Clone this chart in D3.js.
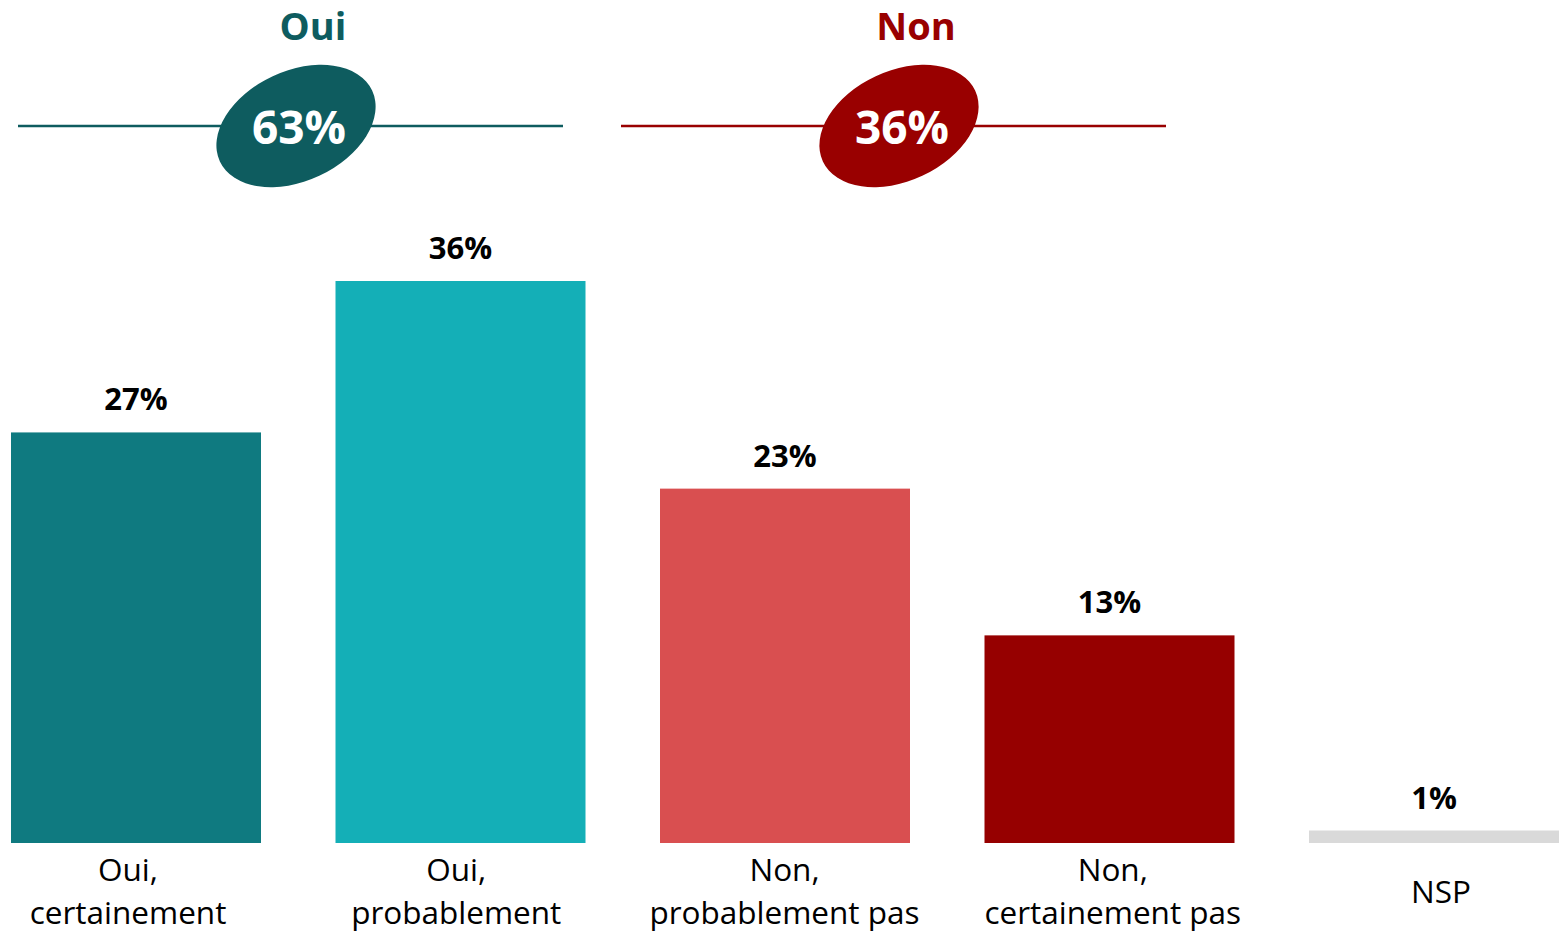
<!DOCTYPE html>
<html>
<head>
<meta charset="utf-8">
<script src="https://cdn.jsdelivr.net/npm/d3@7"></script>
<style>
  html, body { margin: 0; padding: 0; background: #fff; }
  svg { display: block; }
</style>
</head>
<body>
<svg id="chart" width="1559" height="933"></svg>
<script>
// ---- data ----
const categories = [["Oui,", "certainement"], ["Oui,", "probablement"], ["Non,", "probablement pas"], ["Non,", "certainement pas"], ["NSP"]];
const values = [26.3, 36.0, 22.7, 13.3, 0.8];
const valueLabels = ["27%", "36%", "23%", "13%", "1%"];
const barColors = ["#0F7A80", "#14AFB7", "#D94F50", "#960000", "#D9D9D9"];
const groupNames = ["Oui", "Non"];
const groupTotals = ["63%", "36%"];
const groupColors = ["#0E5C5F", "#990000"];

const svg = d3.select("#chart");
const font = "'Open Sans', 'Noto Sans', sans-serif";

const idx = d3.range(categories.length);
const xb = d3.scaleBand().domain(idx).range([11, 1559]).paddingInner(74.5 / 324.5).paddingOuter(0);
const xl = d3.scalePoint().domain(idx).range([128, 1441]);
const y = d3.scaleLinear().domain([0, 36]).range([843, 281]);

// bars
svg.append("g").selectAll("rect").data(values).join("rect")
  .attr("x", (d, i) => xb(i))
  .attr("width", xb.bandwidth())
  .attr("y", d => y(d))
  .attr("height", d => y(0) - y(d))
  .attr("fill", (d, i) => barColors[i]);

// value labels
svg.append("g").selectAll("text").data(values).join("text")
  .attr("x", (d, i) => xb(i) + xb.bandwidth() / 2)
  .attr("y", d => y(d) - 22)
  .attr("text-anchor", "middle")
  .attr("font-family", font)
  .attr("font-weight", 700)
  .attr("font-size", 31)
  .attr("fill", "#000")
  .text((d, i) => valueLabels[i]);

// category labels
const cat = svg.append("g").selectAll("text").data(categories).join("text")
  .attr("text-anchor", "middle")
  .attr("font-family", font)
  .attr("font-size", 31.5)
  .attr("fill", "#000");
cat.each(function(lines, i) {
  const cx = xl(i);
  const t = d3.select(this);
  if (lines.length === 1) {
    t.append("tspan").attr("x", cx).attr("y", 903).text(lines[0]);
  } else {
    lines.forEach((l, k) => t.append("tspan").attr("x", cx).attr("y", 881 + k * 43).text(l));
  }
});

// group headers
const groupCx = [296, 899];
const lineX = [[18, 563], [621, 1166]];
groupNames.forEach((g, i) => {
  const c = groupColors[i];
  svg.append("line")
    .attr("x1", lineX[i][0]).attr("x2", lineX[i][1])
    .attr("y1", 126).attr("y2", 126)
    .attr("stroke", c).attr("stroke-width", 2.5);
  svg.append("ellipse")
    .attr("cx", groupCx[i]).attr("cy", 126)
    .attr("rx", 84).attr("ry", 55)
    .attr("transform", `rotate(-25 ${groupCx[i]} 126)`)
    .attr("fill", c);
  svg.append("text")
    .attr("x", groupCx[i] + 3).attr("y", 144)
    .attr("text-anchor", "middle")
    .attr("font-family", font).attr("font-weight", 700).attr("font-size", 46)
    .attr("fill", "#fff")
    .text(groupTotals[i]);
  svg.append("text")
    .attr("x", groupCx[i] + 17).attr("y", 40)
    .attr("text-anchor", "middle")
    .attr("font-family", font).attr("font-weight", 700).attr("font-size", 38)
    .attr("fill", c)
    .text(g);
});
</script>
</body>
</html>
